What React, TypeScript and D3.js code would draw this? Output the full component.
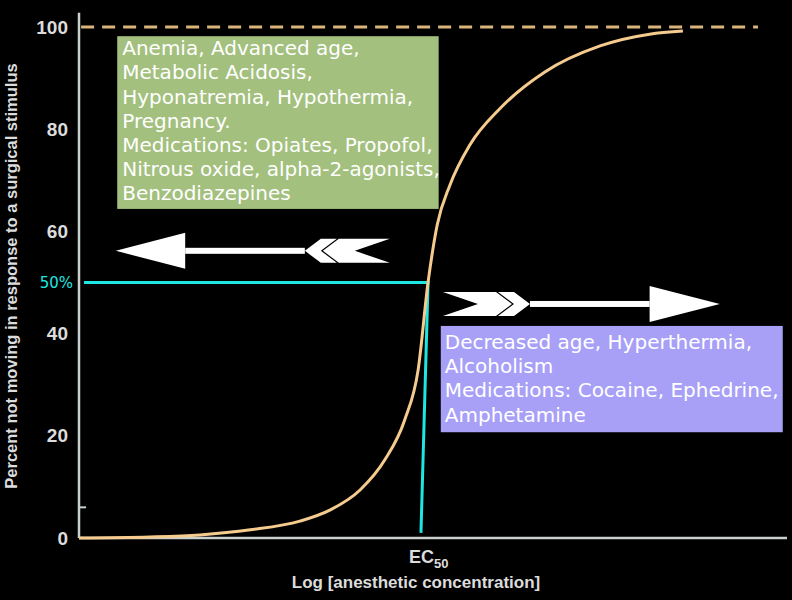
import React, { useEffect, useRef } from "react";
import * as d3 from "d3";

// sigmoid dose-response (x in arbitrary log units 0..100)
const curveX = [0, 10, 17.1, 24.2, 31.2, 35.5, 39.7, 43.2, 46, 47.9, 49.3, 50.6, 52.4, 55.2, 59.5, 65.8, 73.6, 80.6, 85.3];
const curveY = [0, 0.2, 0.6, 1.6, 3.3, 5.5, 9.4, 15.3, 23.1, 32.9, 50, 61.3, 69.1, 76.9, 84.1, 91.2, 96.3, 98.6, 99.2];

const yTicks = [0, 20, 40, 60, 80, 100];
const ec50 = 49.3;

const leftLines = [
  "Anemia, Advanced age,",
  "Metabolic Acidosis,",
  "Hyponatremia, Hypothermia,",
  "Pregnancy.",
  "Medications: Opiates, Propofol,",
  "Nitrous oxide, alpha-2-agonists,",
  "Benzodiazepines",
];
const rightLines = [
  "Decreased age, Hyperthermia,",
  "Alcoholism",
  "Medications: Cocaine, Ephedrine,",
  "Amphetamine",
];

const width = 792;
const height = 600;
const margin = { top: 27, right: 5, bottom: 62, left: 79 };

const App = () => {
  const ref = useRef<SVGSVGElement>(null);

  useEffect(() => {
    const svg = d3.select(ref.current);
    svg.selectAll("*").remove();

    const x = d3.scaleLinear().domain([0, 100]).range([margin.left, width - margin.right]);
    const y = d3.scaleLinear().domain([0, 100]).range([height - margin.bottom, margin.top]);

    svg.append("rect").attr("width", width).attr("height", height).attr("fill", "#000");

    // boxes
    const boxes = [
      { x0: 5.4, x1: 50.8, y0: 98.2, y1: 64.4, fill: "#a3c07e", lines: leftLines, off: 19, pad: 5 },
      { x0: 51.1, x1: 99.4, y0: 41.5, y1: 20.7, fill: "#a8a0f7", lines: rightLines, off: 23, pad: 4 },
    ];
    boxes.forEach((b) => {
      svg
        .append("rect")
        .attr("x", x(b.x0))
        .attr("y", y(b.y0))
        .attr("width", x(b.x1) - x(b.x0))
        .attr("height", y(b.y1) - y(b.y0))
        .attr("fill", b.fill);
      svg
        .append("g")
        .selectAll("text")
        .data(b.lines)
        .enter()
        .append("text")
        .attr("x", x(b.x0) + b.pad)
        .attr("y", (d, i) => y(b.y0) + b.off + i * 24.2)
        .attr("fill", "#fff")
        .attr("font-family", "DejaVu Sans")
        .attr("font-size", "20px")
        .text((d) => d);
    });

    // axes
    svg
      .append("line")
      .attr("x1", x(0)).attr("x2", x(0))
      .attr("y1", y(0)).attr("y2", y(102.8))
      .attr("stroke", "#c9d0d0").attr("stroke-width", 2.5);
    svg
      .append("line")
      .attr("x1", x(0)).attr("x2", x(100))
      .attr("y1", y(0)).attr("y2", y(0))
      .attr("stroke", "#c9d0d0").attr("stroke-width", 2.5);
    svg
      .append("line")
      .attr("x1", x(0)).attr("x2", x(1))
      .attr("y1", y(6)).attr("y2", y(6))
      .attr("stroke", "#c9d0d0").attr("stroke-width", 2);

    const yAxis = d3.axisLeft(y).tickValues(yTicks).tickSize(0).tickPadding(11);
    svg
      .append("g")
      .attr("transform", `translate(${margin.left},0)`)
      .call(yAxis)
      .call((g) => g.select(".domain").remove())
      .selectAll("text")
      .attr("fill", "#dcdcdc")
      .attr("font-family", "Liberation Sans")
      .attr("font-weight", "bold")
      .attr("font-size", "19px");

    // 100% dashed line
    svg
      .append("line")
      .attr("x1", x(0.3)).attr("x2", x(95.9))
      .attr("y1", y(100)).attr("y2", y(100))
      .attr("stroke", "#d9b57c").attr("stroke-width", 3)
      .attr("stroke-dasharray", "13 8");

    // EC50 guide
    const guide: [number, number][] = [
      [48.3, 1],
      [ec50, 50],
      [0.7, 50],
    ];
    svg
      .append("path")
      .attr("d", d3.line<[number, number]>().x((d) => x(d[0])).y((d) => y(d[1]))(guide))
      .attr("fill", "none")
      .attr("stroke", "#1ee6e0")
      .attr("stroke-width", 3);

    svg
      .append("text")
      .attr("x", x(0) - 6)
      .attr("y", y(50) + 5)
      .attr("text-anchor", "end")
      .attr("fill", "#1ee6e0")
      .attr("font-family", "DejaVu Sans")
      .attr("font-size", "15px")
      .text("50%");

    // curve
    const pts = curveX.map((d, i) => [d, curveY[i]] as [number, number]);
    svg
      .append("path")
      .attr("d", d3.line<[number, number]>().x((d) => x(d[0])).y((d) => y(d[1])).curve(d3.curveMonotoneX)(pts))
      .attr("fill", "none")
      .attr("stroke", "#f6cb8e")
      .attr("stroke-width", 3);

    // arrows: tip/base of head, fletching inner (at shaft) and outer end
    const arrows = [
      { lvl: 56.2, tip: 5.2, base: 15.0, fIn: 31.9, fOut: 43.9 },
      { lvl: 45.8, tip: 90.5, base: 80.6, fIn: 63.7, fOut: 51.4 },
    ];
    arrows.forEach((a) => {
      const yy = y(a.lvl);
      const dir = Math.sign(x(a.tip) - x(a.base));
      const xIn = x(a.fIn);
      const L = Math.abs(x(a.fOut) - xIn);
      const px = (u: number) => xIn - dir * u;
      const poly = (p: [number, number][]) => p.map(([u, dy]) => `${px(u)},${yy + dy}`).join(" ");
      const g = svg.append("g").attr("fill", "#fff");
      g.append("rect")
        .attr("x", Math.min(xIn, x(a.base)))
        .attr("y", yy - 3)
        .attr("width", Math.abs(x(a.base) - xIn))
        .attr("height", 6);
      g.append("polygon").attr(
        "points",
        `${x(a.tip)},${yy} ${x(a.base)},${yy - 18} ${x(a.base)},${yy + 18}`
      );
      const s = 16;
      g.append("polygon").attr("points", poly([[0, 0], [s, -12], [s + 16, -12], [16, 0], [s + 16, 12], [s, 12]]));
      g.append("polygon").attr(
        "points",
        poly([[18, 0], [18 + s, -12], [L, -12], [L - 35, 0], [L, 12], [18 + s, 12]])
      );
    });

    // x labels
    const ecLabel = svg
      .append("text")
      .attr("x", x(ec50) - 19)
      .attr("y", y(0) + 25)
      .attr("fill", "#dcdcdc")
      .attr("font-family", "Liberation Sans")
      .attr("font-weight", "bold")
      .attr("font-size", "18px");
    ecLabel.append("tspan").text("EC");
    ecLabel.append("tspan").attr("font-size", "13px").attr("dy", 5).text("50");

    svg
      .append("text")
      .attr("x", 416)
      .attr("y", y(0) + 50)
      .attr("text-anchor", "middle")
      .attr("fill", "#dcdcdc")
      .attr("font-family", "Liberation Sans")
      .attr("font-weight", "bold")
      .attr("font-size", "17px")
      .text("Log [anesthetic concentration]");

    svg
      .append("text")
      .attr("transform", `translate(17,276) rotate(-90)`)
      .attr("text-anchor", "middle")
      .attr("fill", "#dcdcdc")
      .attr("font-family", "Liberation Sans")
      .attr("font-weight", "bold")
      .attr("font-size", "16.5px")
      .text("Percent not moving in response to a surgical stimulus");
  }, []);

  return (
    <svg
      ref={ref}
      width={width}
      height={height}
      style={{ position: "absolute", left: 0, top: 0 }}
    />
  );
};

export default App;
